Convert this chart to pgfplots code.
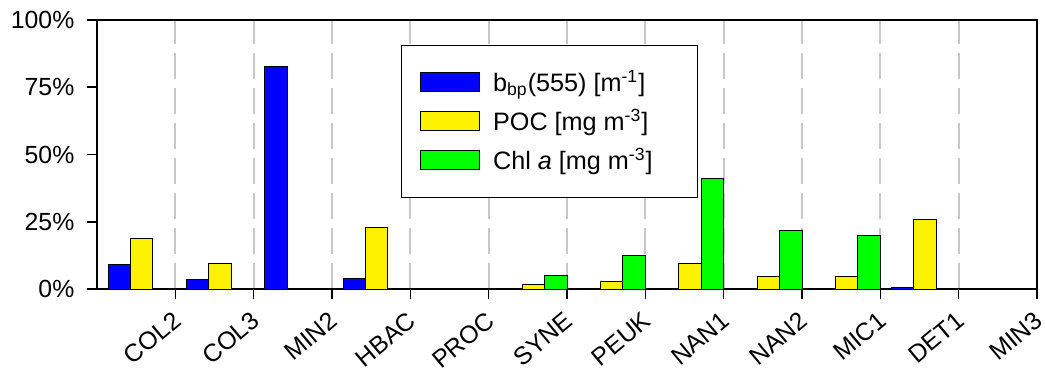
\documentclass[border=0pt]{standalone}
\usepackage{fontspec}
\setmainfont{Liberation Sans}
\usepackage{pgfplots}
\pgfplotsset{compat=1.18}
\definecolor{gridgray}{RGB}{200,200,200}
\begin{document}
\begin{tikzpicture}
\begin{axis}[
  at={(0,0)}, anchor=south west,
  scale only axis, width=470pt, height=134.5pt,
  xmin=0, xmax=12, ymin=0, ymax=100,
  axis line style={line width=0.8pt},
  font=\fontsize{12.4}{14.8}\selectfont,
  xtick={1,2,3,4,5,6,7,8,9,10,11,12},
  xticklabels={COL2,COL3,MIN2,HBAC,PROC,SYNE,PEUK,NAN1,NAN2,MIC1,DET1,MIN3},
  ytick={0,25,50,75,100},
  yticklabels={0\%,25\%,50\%,75\%,100\%},
  xtick pos=bottom, ytick pos=left,
  tick align=outside,
  major tick length=4.8pt,
  tick style={line width=0.8pt, black},
  xmajorgrids,
  grid style={gridgray, line width=1pt, dash pattern=on 13pt off 4.5pt},
  xticklabel style={xshift=-1.5pt, yshift=-1pt, rotate=40, anchor=north east},
  yticklabel style={xshift=-3pt},
  legend style={at={(0.323,0.907)}, anchor=north west, draw=black, line width=0.5pt,
    inner xsep=9.5pt, inner ysep=10.5pt, row sep=3.5pt,
    font=\fontsize{12.6}{15}\selectfont,
    /tikz/every odd column/.append style={column sep=4.5pt}},
  legend cell align=left,
  legend image code/.code={\draw[#1, line width=0.5pt] (0pt,-4.75pt) rectangle (29.5pt,4.75pt);},
]
\addplot[ybar, bar shift=0pt, bar width=0.286, fill=blue, draw=black, line width=0.5pt]
  coordinates {(0.284,9.0) (1.284,3.5) (2.284,82.7) (3.284,4.0) (10.284,0.4)};
\addlegendentry{b\textsubscript{bp}(555) [m\textsuperscript{-1}]}
\addplot[ybar, bar shift=0pt, bar width=0.286, fill=yellow, draw=black, line width=0.5pt]
  coordinates {(0.570,18.8) (1.570,9.4) (3.570,22.9) (5.570,1.7) (6.570,2.7) (7.570,9.3) (8.570,4.8) (9.570,4.5) (10.570,25.7)};
\addlegendentry{POC [mg m\textsuperscript{-3}]}
\addplot[ybar, bar shift=0pt, bar width=0.286, fill=green, draw=black, line width=0.5pt]
  coordinates {(5.857,5.0) (6.857,12.3) (7.857,41.2) (8.857,21.7) (9.857,19.9)};
\addlegendentry{Chl \textit{a} [mg m\textsuperscript{-3}]\rule{11pt}{0pt}}
\end{axis}
\pgfresetboundingbox
\path[use as bounding box] (-48.5pt,-41pt) rectangle (474pt,144.5pt);
\end{tikzpicture}
\end{document}
